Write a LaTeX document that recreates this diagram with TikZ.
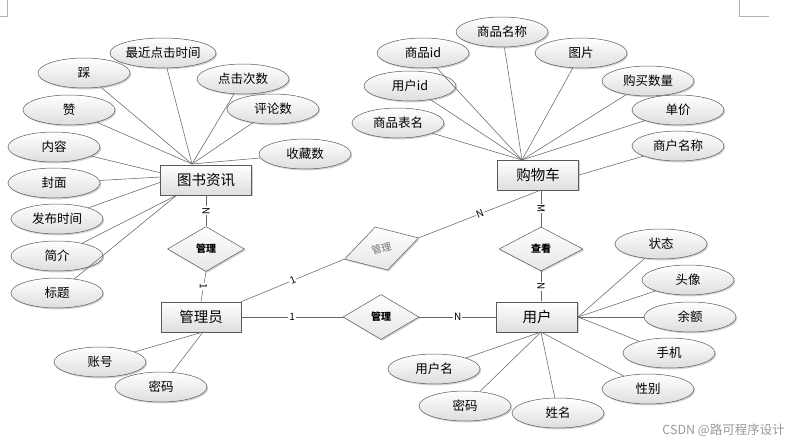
\documentclass[tikz,border=0pt]{standalone}
\usepackage{fontspec}
\setmainfont{Noto Sans CJK SC}
\usetikzlibrary{shapes.geometric,shadows}
\begin{document}
\begin{tikzpicture}[x=1pt,y=-1pt,
  shd/.style={drop shadow={shadow xshift=1.2pt,shadow yshift=-1.4pt,fill=black!35,opacity=0.5}},
  attr/.style={ellipse,draw=black!65,line width=0.5pt,top color=white,bottom color=black!13,shd,
    minimum width=92pt,minimum height=30pt,inner sep=0pt,font=\fontsize{12.5}{14}\selectfont},
  ent/.style={rectangle,draw=black!65,line width=0.6pt,top color=white,bottom color=black!13,shd,
    minimum height=30pt,inner sep=0pt,font=\fontsize{14.5}{16}\selectfont},
  rel/.style={diamond,draw=black!65,line width=0.5pt,top color=white,bottom color=black!10,shd,
    minimum width=77pt,minimum height=45pt,inner sep=0pt,font=\fontsize{10}{12}\selectfont\bfseries},
  link/.style={draw=black!60,line width=0.55pt},
  card/.style={font=\fontsize{10}{11}\selectfont,inner sep=0.8pt,fill=white}
]
\useasboundingbox[fill=white] (0,0) rectangle (792,444);

% page corner marks
\draw[black!30,line width=0.5pt] (0,16) coordinate (m1) -- (7,16) coordinate (m2) -- (7,0) coordinate (m3);
\draw[black!30,line width=0.5pt] (739,0) coordinate (m4) -- (739,16) coordinate (m5) -- (769,16) coordinate (m6);

% entities
\node[ent,minimum width=91pt] (book) at (206,180) {图书资讯};
\node[ent,minimum width=81pt] (cart) at (538,175) {购物车};
\node[ent,minimum width=80pt] (admin) at (201,317) {管理员};
\node[ent,minimum width=81pt] (user) at (537,317) {用户};

% relationships
\node[rel] (r1) at (206,249) {管理};
\node[rel,minimum width=84pt,minimum height=44pt] (r2) at (541,249) {查看};
\node[rel,minimum width=76pt] (r3) at (381,317) {管理};
\node[rel,rotate=16,text=black!55,font=\fontsize{10}{12}\selectfont] (r4) at (381.5,248.5) {管理};

% convergence coordinates
\coordinate (bT) at (192,164);
\coordinate (bL1) at (161,173);
\coordinate (bL2) at (161,177);
\coordinate (bL3) at (161,182);
\coordinate (bB) at (177,195);
\coordinate (cT) at (522,160);
\coordinate (cR) at (579,175);
\coordinate (aB) at (203,332);
\coordinate (uR) at (578,317);
\coordinate (uB) at (541,332);
\coordinate (cB) at (541,190);
\coordinate (uT) at (541,301);

% book attributes
\node[attr] (b1) at (163,53) {最近点击时间};
\node[attr] (b2) at (84,73) {踩};
\node[attr] (b3) at (243,79) {点击次数};
\node[attr] (b4) at (69,110) {赞};
\node[attr] (b5) at (273,109) {评论数};
\node[attr] (b6) at (54,147) {内容};
\node[attr] (b7) at (305,154) {收藏数};
\node[attr] (b8) at (54,183) {封面};
\node[attr] (b9) at (57,219) {发布时间};
\node[attr] (b10) at (57,256) {简介};
\node[attr] (b11) at (57,293) {标题};
\foreach \n in {b1,b2,b3,b4,b5,b7} \draw[link] (\n) -- (bT);
\draw[link] (b6) -- (bL1);
\draw[link] (b8) -- (bL2);
\draw[link] (b9) -- (bL3);
\draw[link] (b10) -- (bB);
\draw[link] (b11) -- (bB);

% cart attributes
\node[attr] (c1) at (502,32) {商品名称};
\node[attr] (c2) at (423,53) {商品id};
\node[attr] (c3) at (581,53) {图片};
\node[attr] (c4) at (410,86) {用户id};
\node[attr] (c5) at (648,81) {购买数量};
\node[attr] (c6) at (678,110) {单价};
\node[attr] (c7) at (398,123) {商品表名};
\node[attr] (c8) at (678,146) {商户名称};
\foreach \n in {c1,c2,c3,c4,c5,c6,c7} \draw[link] (\n) -- (cT);
\draw[link] (c8) -- (cR);

% admin attributes
\node[attr] (a1) at (100,362) {账号};
\node[attr] (a2) at (161,387) {密码};
\draw[link] (a1) -- (aB);
\draw[link] (a2) -- (aB);

% user attributes
\node[attr] (u1) at (661,244) {状态};
\node[attr] (u2) at (688,280) {头像};
\node[attr] (u3) at (690,317) {余额};
\node[attr] (u4) at (669,353) {手机};
\node[attr] (u5) at (648,389) {性别};
\node[attr] (u6) at (434,369) {用户名};
\node[attr] (u7) at (465,406) {密码};
\node[attr] (u8) at (558,413) {姓名};
\foreach \n in {u1,u2,u3,u4} \draw[link] (\n) -- (uR);
\foreach \n in {u5,u6,u7,u8} \draw[link] (\n) -- (uB);

% relationship links
\draw[link] (book.south) -- node[card,rotate=-90,pos=0.5]{N} (r1.north);
\draw[link] (r1.south) -- node[card,rotate=-90,pos=0.5]{1} (admin.north);
\draw[link] (cB) -- node[card,rotate=-90,pos=0.5]{M} (r2.north);
\draw[link] (r2.south) -- node[card,rotate=-90,pos=0.5]{N} (uT);
\draw[link,line width=0.8pt] (admin.east) -- node[card,pos=0.5]{1} (r3.west);
\draw[link,line width=0.8pt] (r3.east) -- node[card,pos=0.5]{N} (user.west);
\draw[link] (admin.north east) -- node[card,sloped,pos=0.5]{1} (r4.west);
\draw[link] (r4.east) -- node[card,sloped,pos=0.5]{N} (cB);

% watermark
\node[text=black!40,font=\fontsize{12.5}{14}\selectfont,anchor=east,inner sep=0pt] (wm) at (785,430) {CSDN @路可程序设计};
\end{tikzpicture}
\end{document}
